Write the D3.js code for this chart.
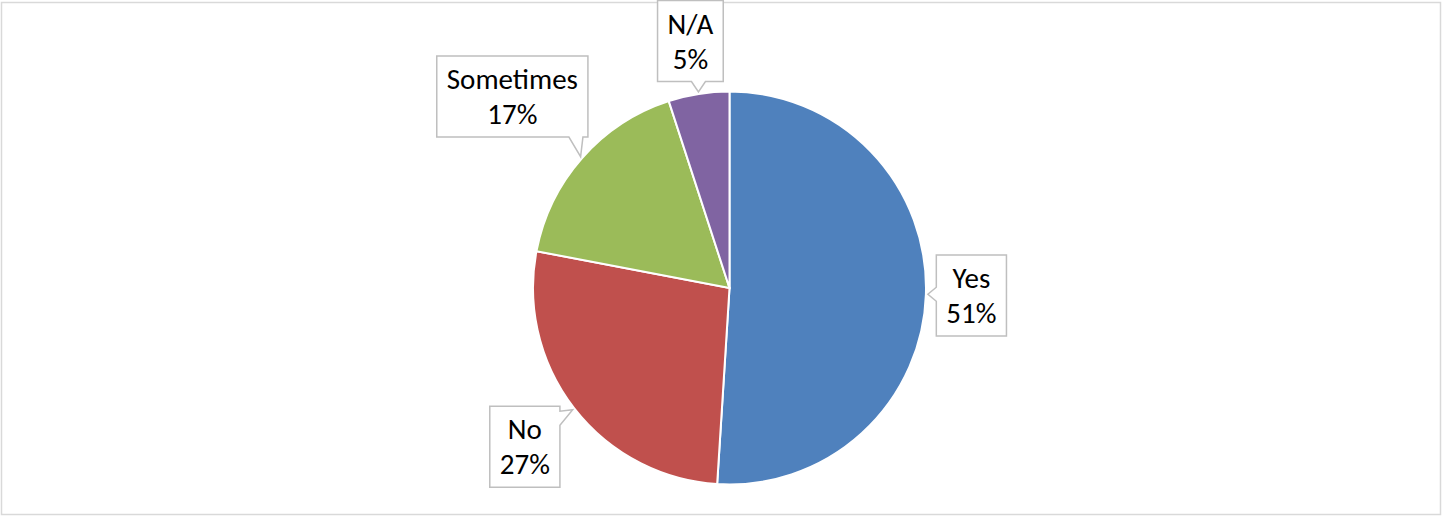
<!DOCTYPE html>
<html>
<head>
<meta charset="utf-8">
<script src="https://cdn.jsdelivr.net/npm/d3@7"></script>
<style>
  body { margin: 0; background: #fff; }
  text { font-family: Carlito, Calibri, Lato, sans-serif; }
</style>
</head>
<body>
<svg id="chart" width="1442" height="516"></svg>
<script>
// answers, clockwise from 12 o'clock
var categories = ["Yes", "No", "Sometimes", "N/A"]
var shares = [51, 27, 17, 5]
var sliceColors = ["#4F81BD", "#C0504D", "#9BBB59", "#8064A2"]

var width = 1442, height = 516
var cx = 729.5, cy = 288, radius = 196.5
var fontSize = 29, lineGap = 35, padX = 10, boxH = 81

var data = categories.map((c, i) => ({label: c, value: shares[i], color: sliceColors[i]}))

var svg = d3.select("#chart")

// chart area frame
svg.append("rect")
  .attr("x", 1.5).attr("y", 2.5)
  .attr("width", width - 3).attr("height", height - 4)
  .attr("fill", "#fff")
  .attr("stroke", "#D9D9D9")
  .attr("stroke-width", 1.5)

var pie = d3.pie().sort(null).value(d => d.value)
var arc = d3.arc().innerRadius(0).outerRadius(radius)

var g = svg.append("g").attr("transform", `translate(${cx},${cy})`)

var arcs = pie(data)

g.selectAll("path.slice")
  .data(arcs)
  .enter()
  .append("path")
  .attr("class", "slice")
  .attr("d", arc)
  .attr("fill", d => d.data.color)
  .attr("stroke", "#fff")
  .attr("stroke-width", 2)

// callouts
var total = d3.sum(shares)
var fmt = d => Math.round(d / total * 100) + "%"

var labels = g.selectAll("g.callout")
  .data(arcs)
  .enter()
  .append("g")
  .attr("class", "callout")

var box = labels.append("path")
  .attr("fill", "#fff")
  .attr("stroke", "#BFBFBF")
  .attr("stroke-width", 1.5)

var txt = labels.append("text")
  .attr("text-anchor", "middle")
  .attr("font-size", fontSize)
  .attr("fill", "#000")

txt.append("tspan").attr("class", "l1").text(d => d.data.label)
txt.append("tspan").attr("class", "l2").text(d => fmt(d.data.value))

// distance from pie centre to nearest point of a box
function nearest(bx, by, hw, hh) {
  var dx = Math.max(Math.abs(bx) - hw, 0)
  var dy = Math.max(Math.abs(by) - hh, 0)
  return Math.sqrt(dx * dx + dy * dy)
}

labels.each(function(d) {
  var sel = d3.select(this)
  var w1 = sel.select(".l1").node().getComputedTextLength()
  var w2 = sel.select(".l2").node().getComputedTextLength()
  var hw = (Math.max(w1, w2) + 2 * padX) / 2, hh = boxH / 2
  var mid = (d.startAngle + d.endAngle) / 2
  var ux = Math.sin(mid), uy = -Math.cos(mid)
  var tip = [ux * (radius + 2), uy * (radius + 2)]

  // push the box out along the mid angle until it clears the pie
  var s = radius
  while (nearest(ux * s, uy * s, hw, hh) < radius + 10) s += 0.5
  var bx = ux * s, by = uy * s
  var x0 = bx - hw, x1 = bx + hw, y0 = by - hh, y1 = by + hh

  // which side gets the pointer
  var gapX = tip[0] > x1 ? tip[0] - x1 : (tip[0] < x0 ? x0 - tip[0] : 0)
  var gapY = tip[1] > y1 ? tip[1] - y1 : (tip[1] < y0 ? y0 - tip[1] : 0)
  var side
  if (gapX >= gapY) side = tip[0] > x1 ? "right" : "left"
  else side = tip[1] > y1 ? "bottom" : "top"

  var half = 7
  var clamp = (v, a, b) => Math.max(a + 12, Math.min(b - 12, v))
  var p = d3.path()
  p.moveTo(x0, y0)
  if (side === "top") {
    var m = clamp(tip[0], x0, x1)
    p.lineTo(m - half, y0); p.lineTo(tip[0], tip[1]); p.lineTo(m + half, y0)
  }
  p.lineTo(x1, y0)
  if (side === "right") {
    var m = clamp(tip[1], y0, y1)
    p.lineTo(x1, m - half); p.lineTo(tip[0], tip[1]); p.lineTo(x1, m + half)
  }
  p.lineTo(x1, y1)
  if (side === "bottom") {
    var m = clamp(tip[0], x0, x1)
    p.lineTo(m + half, y1); p.lineTo(tip[0], tip[1]); p.lineTo(m - half, y1)
  }
  p.lineTo(x0, y1)
  if (side === "left") {
    var m = clamp(tip[1], y0, y1)
    p.lineTo(x0, m + half); p.lineTo(tip[0], tip[1]); p.lineTo(x0, m - half)
  }
  p.closePath()
  sel.select("path").attr("d", p.toString())

  sel.select(".l1").attr("x", bx).attr("y", y0 + 33)
  sel.select(".l2").attr("x", bx).attr("y", y0 + 33 + lineGap)
})
</script>
</body>
</html>
